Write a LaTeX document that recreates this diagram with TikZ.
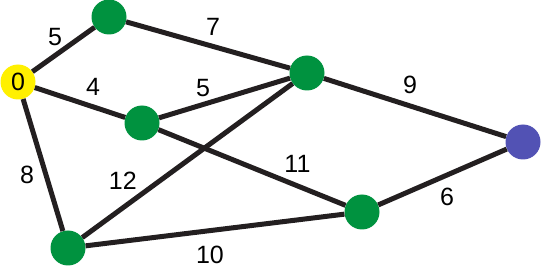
\documentclass[tikz,border=0pt]{standalone}
\usepackage{fontspec}
\setmainfont{Liberation Sans}
\usepackage{tikz}
\definecolor{nodegreen}{RGB}{0,146,63}
\definecolor{nodeyellow}{RGB}{255,240,0}
\definecolor{nodeblue}{RGB}{82,82,180}
\definecolor{edgeblack}{RGB}{35,31,32}
\begin{document}
\begin{tikzpicture}[x=1pt, y=-1pt, font=\fontsize{25}{30}\selectfont,
    vert/.style={shape=circle, fill=#1, minimum size=35pt, inner sep=0pt}]
    \useasboundingbox (0,0) rectangle (550,267);
    \node[vert=nodeyellow] (0) at (18,82) {0};
    \node[vert=nodegreen] (A) at (109,17) {};
    \node[vert=nodegreen] (B) at (307,73) {};
    \node[vert=nodegreen] (C) at (142,123) {};
    \node[vert=nodeblue] (T) at (523,142) {};
    \node[vert=nodegreen] (D) at (362,212) {};
    \node[vert=nodegreen] (E) at (68,248) {};

    \path[draw=edgeblack, line width=5pt, every node/.style={inner sep=0pt}]
    (0) edge node [xshift=-8.5pt, yshift=12.5pt] {5} (A)
    (A) edge node [xshift=5pt, yshift=18pt] {7} (B)
    (0) edge node [xshift=13pt, yshift=15.5pt] {4} (C)
    (C) edge node [xshift=-21.5pt, yshift=10pt] {5} (B)
    (B) edge node [xshift=-5pt, yshift=22.5pt] {9} (T)
    (0) edge node [xshift=-16pt, yshift=-10pt] {8} (E)
    (E) edge node [pos=0.25, xshift=-12pt, yshift=18pt] {12} (B)
    (C) edge node [pos=0.7, xshift=8pt, yshift=19pt] {11} (D)
    (D) edge node [xshift=4.5pt, yshift=-20pt] {6} (T)
    (E) edge node [xshift=-5pt, yshift=-25pt] {10} (D);
\end{tikzpicture}
\end{document}
